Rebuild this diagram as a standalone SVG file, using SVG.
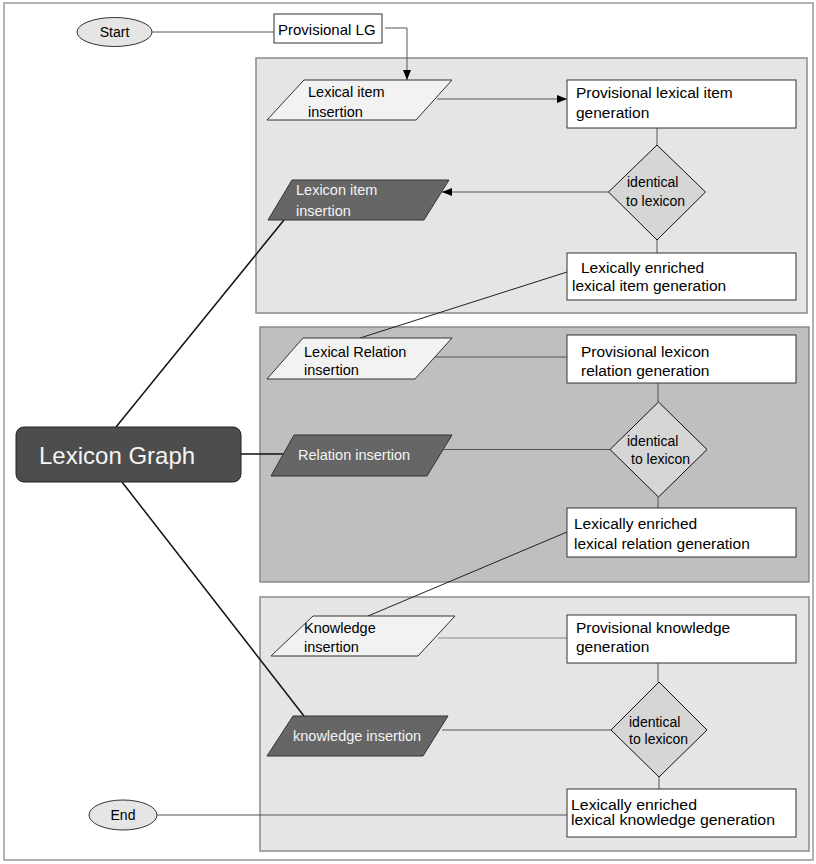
<svg xmlns="http://www.w3.org/2000/svg" width="816" height="864" viewBox="0 0 816 864">
  <style>
    text { font-family: "Liberation Sans", Arial, sans-serif; fill: #000; }
    .frame { fill: #fff; stroke: #999; stroke-width: 1.5; }
    .lane { stroke: #8a8a8a; stroke-width: 1.5; }
    .lane-light { fill: #e5e5e5; }
    .lane-dark { fill: #bfbfbf; }
    .box { fill: #fff; stroke: #333; stroke-width: 1; }
    .term { fill: #e5e5e5; stroke: #333; stroke-width: 1; }
    .io-light { fill: #f2f2f2; stroke: #333; stroke-width: 1; }
    .io-dark { fill: #666; stroke: #333; stroke-width: 1; }
    .decision { fill: #d6d6d6; stroke: #111; stroke-width: 1; }
    .hub { fill: #4d4d4d; stroke: #222; stroke-width: 1; }
    .t-box { font-size: 15.5px; }
    .t-tight { font-size: 14px; }
    .t-io { font-size: 14.5px; }
    .t-dec { font-size: 14px; }
    .t-term { font-size: 14px; text-anchor: middle; }
    .t-white { fill: #f4f4f4; }
    .flow { fill: none; stroke: #555; stroke-width: 1; }
    .link { fill: none; stroke: #111; stroke-width: 1.5; }
  </style>
  <defs>
    <marker id="arrow" viewBox="0 0 10 8" refX="10" refY="4" markerWidth="10" markerHeight="8" markerUnits="userSpaceOnUse" orient="auto">
      <path d="M0,0 L10,4 L0,8 Z" fill="#000"/>
    </marker>
  </defs>

  <!-- page frame -->
  <rect class="frame" x="4" y="3" width="809" height="857"/>

  <!-- lanes -->
  <g id="lane-item">
    <rect class="lane lane-light" x="256" y="58" width="551" height="255"/>
  </g>
  <g id="lane-relation">
    <rect class="lane lane-dark" x="260" y="327" width="549" height="255"/>
  </g>
  <g id="lane-knowledge">
    <rect class="lane lane-light" x="260" y="597" width="549" height="254"/>
  </g>

  <!-- connectors -->
  <g id="connectors">
    <path class="flow" d="M152,32 H274"/>
    <path class="flow" d="M385,28 H407 V80" marker-end="url(#arrow)"/>
    <path class="flow" d="M437,99 H567" marker-end="url(#arrow)"/>
    <path class="flow" d="M657,128 V145"/>
    <path class="flow" d="M608.5,192 H442" marker-end="url(#arrow)"/>
    <path class="flow" d="M657,240 V253"/>
    <path class="flow" d="M567,272 L360,338" style="stroke:#222"/>
    <path class="flow" d="M435,357 H567"/>
    <path class="flow" d="M658,383 V402"/>
    <path class="flow" d="M443,449.5 H610"/>
    <path class="flow" d="M658,497 V508"/>
    <path class="flow" d="M567,532 L368,616" style="stroke:#222"/>
    <path class="flow" d="M438,638 H567" style="stroke:#888"/>
    <path class="flow" d="M658,663 V682"/>
    <path class="flow" d="M442,730 H611"/>
    <path class="flow" d="M659,777 V789"/>
    <path class="flow" d="M157,815 H567"/>
    <path class="link" d="M116,427 L284,220"/>
    <path class="link" d="M241,454 H283"/>
    <path class="link" d="M122,482 L304,716"/>
  </g>

  <!-- terminals -->
  <g id="start">
    <ellipse class="term" cx="114.5" cy="32" rx="37.5" ry="14.5"/>
    <text class="t-term" x="114.5" y="37">Start</text>
  </g>
  <g id="end">
    <ellipse class="term" cx="123" cy="815" rx="34" ry="15"/>
    <text class="t-term" x="123" y="820">End</text>
  </g>

  <g id="provisional-lg">
    <rect class="box" x="274" y="14" width="108" height="29"/>
    <text x="278" y="35" style="font-size:15px">Provisional LG</text>
  </g>

  <!-- hub -->
  <g id="lexicon-graph">
    <rect class="hub" x="16" y="427" width="225" height="55" rx="8" ry="8"/>
    <text x="39" y="464" style="font-size:24px; fill:#f4f4f4">Lexicon Graph</text>
  </g>

  <!-- lexical item lane -->
  <g id="lexical-item-insertion">
    <polygon class="io-light" points="304,80 452,80 416,120 267,120"/>
    <text class="t-io" x="308" y="97">Lexical item</text>
    <text class="t-io" x="308" y="117">insertion</text>
  </g>
  <g id="provisional-lexical-item">
    <rect class="box" x="567" y="80" width="229" height="48"/>
    <text class="t-box" x="576" y="98">Provisional lexical item</text>
    <text class="t-box" x="576" y="118">generation</text>
  </g>
  <g id="decision-item">
    <polygon class="decision" points="657,145 705.5,192 657,240 608.5,192"/>
    <text class="t-dec" x="627" y="187">identical</text>
    <text class="t-dec" x="626" y="206">to lexicon</text>
  </g>
  <g id="lexicon-item-insertion">
    <polygon class="io-dark" points="292,180 449,180 424,220 268,220"/>
    <text class="t-io t-white" x="296" y="195">Lexicon item</text>
    <text class="t-io t-white" x="296" y="216">insertion</text>
  </g>
  <g id="enriched-lexical-item">
    <rect class="box" x="567" y="253" width="229" height="47"/>
    <text class="t-box" x="581" y="273">Lexically enriched</text>
    <text class="t-box" x="572" y="291">lexical item generation</text>
  </g>

  <!-- relation lane -->
  <g id="lexical-relation-insertion">
    <polygon class="io-light" points="303,338 452,338 415,379 267,379"/>
    <text class="t-io" x="304" y="357">Lexical Relation</text>
    <text class="t-io" x="304" y="375">insertion</text>
  </g>
  <g id="provisional-lexicon-relation">
    <rect class="box" x="567" y="335" width="229" height="48"/>
    <text class="t-box" x="581" y="357">Provisional lexicon</text>
    <text class="t-box" x="581" y="376">relation generation</text>
  </g>
  <g id="decision-relation">
    <polygon class="decision" points="658.5,402 707,449.5 658.5,497 610,449.5"/>
    <text class="t-dec" x="627" y="446">identical</text>
    <text class="t-dec" x="631" y="464">to lexicon</text>
  </g>
  <g id="relation-insertion">
    <polygon class="io-dark" points="294,435 452,435 427,476 271,476"/>
    <text class="t-io t-white" x="298" y="460">Relation insertion</text>
  </g>
  <g id="enriched-lexical-relation">
    <rect class="box" x="567" y="508" width="229" height="49"/>
    <text class="t-box" x="574" y="529">Lexically enriched</text>
    <text class="t-box" x="574" y="549">lexical relation generation</text>
  </g>

  <!-- knowledge lane -->
  <g id="knowledge-insertion-light">
    <polygon class="io-light" points="313,616 455,616 418,656 271,656"/>
    <text class="t-io" x="304" y="633">Knowledge</text>
    <text class="t-io" x="304" y="652">insertion</text>
  </g>
  <g id="provisional-knowledge">
    <rect class="box" x="567" y="615" width="229" height="48"/>
    <text class="t-box" x="576" y="633">Provisional knowledge</text>
    <text class="t-box" x="576" y="652">generation</text>
  </g>
  <g id="decision-knowledge">
    <polygon class="decision" points="659,682 707,730 659,777 611,730"/>
    <text class="t-dec" x="629" y="727">identical</text>
    <text class="t-dec" x="629" y="744">to lexicon</text>
  </g>
  <g id="knowledge-insertion">
    <polygon class="io-dark" points="293,716 448,716 423,756 267,756"/>
    <text class="t-io t-white" x="293" y="741">knowledge insertion</text>
  </g>
  <g id="enriched-lexical-knowledge">
    <rect class="box" x="567" y="789" width="229" height="48"/>
    <text class="t-tight" x="571" y="810" textLength="126" lengthAdjust="spacingAndGlyphs">Lexically enriched</text>
    <text class="t-tight" x="571" y="825" textLength="204" lengthAdjust="spacingAndGlyphs">lexical knowledge generation</text>
  </g>
</svg>
